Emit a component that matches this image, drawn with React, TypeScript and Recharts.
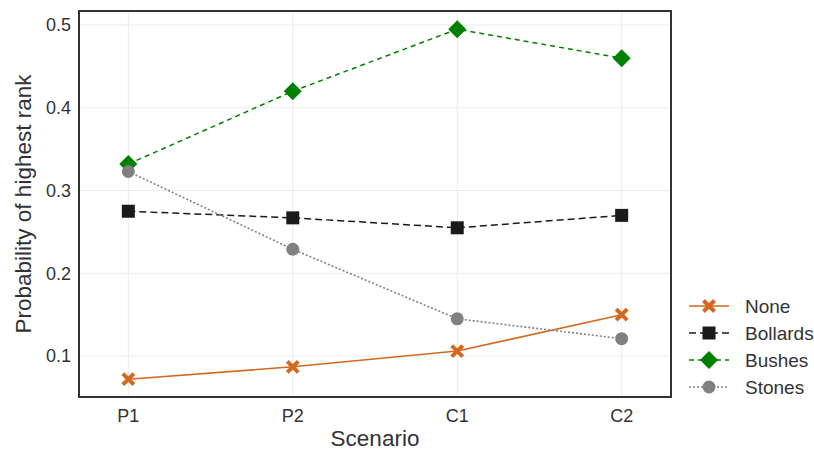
import React from 'react';
import {
  LineChart,
  Line,
  XAxis,
  YAxis,
  CartesianGrid,
  ReferenceArea,
  Label,
} from 'recharts';

const scenarios = ['P1', 'P2', 'C1', 'C2'];
const noneValues = [0.072, 0.087, 0.106, 0.150];
const bollardsValues = [0.275, 0.267, 0.255, 0.270];
const bushesValues = [0.332, 0.420, 0.495, 0.460];
const stonesValues = [0.323, 0.229, 0.145, 0.121];
const yTicks = [0.1, 0.2, 0.3, 0.4, 0.5];

const data = scenarios.map((s, i) => ({
  x: i,
  none: noneValues[i],
  bollards: bollardsValues[i],
  bushes: bushesValues[i],
  stones: stonesValues[i],
}));

const FONT = '"Liberation Sans", Arial, sans-serif';

type Shape = 'cross' | 'square' | 'diamond' | 'circle';

const Marker = ({ cx, cy, shape, color }: { cx: number; cy: number; shape: Shape; color: string }) => {
  if (cx == null || cy == null) return null;
  if (shape === 'cross') {
    const r = 5.5;
    return (
      <g>
        <line x1={cx - r} y1={cy - r} x2={cx + r} y2={cy + r} stroke={color} strokeWidth={4} />
        <line x1={cx - r} y1={cy + r} x2={cx + r} y2={cy - r} stroke={color} strokeWidth={4} />
      </g>
    );
  }
  if (shape === 'square') {
    return <rect x={cx - 6.5} y={cy - 6.5} width={13} height={13} fill={color} />;
  }
  if (shape === 'diamond') {
    const r = 9;
    return <path d={`M${cx},${cy - r}L${cx + r},${cy}L${cx},${cy + r}L${cx - r},${cy}Z`} fill={color} />;
  }
  return <circle cx={cx} cy={cy} r={6.5} fill={color} />;
};

const series = [
  { key: 'none', name: 'None', color: '#D2691E', dash: undefined, width: 1.6, shape: 'cross' as Shape },
  { key: 'bollards', name: 'Bollards', color: '#1a1a1a', dash: '7 4', width: 1.5, shape: 'square' as Shape },
  { key: 'bushes', name: 'Bushes', color: '#008000', dash: '5 4', width: 1.5, shape: 'diamond' as Shape },
  { key: 'stones', name: 'Stones', color: '#808080', dash: '2 2', width: 1.6, shape: 'circle' as Shape },
];

export default function App() {
  return (
    <div style={{ position: 'absolute', left: 0, top: 0, width: 814, height: 450, background: '#fff' }}>
      <LineChart
        width={814}
        height={450}
        data={data}
        margin={{ top: 11, right: 143, bottom: 0, left: 0 }}
      >
        <CartesianGrid stroke="#ebebeb" strokeWidth={1} verticalValues={[0, 1, 2, 3]} horizontalValues={yTicks} />
        <XAxis
          dataKey="x"
          type="number"
          domain={[-0.3, 3.3]}
          ticks={[0, 1, 2, 3]}
          tickFormatter={(v: number) => scenarios[v]}
          axisLine={false}
          tickLine={false}
          tickMargin={6}
          height={53}
          tick={{ fill: '#333', fontSize: 18, fontFamily: FONT }}
        >
          <Label value="Scenario" position="insideBottom" offset={4} fill="#333" fontSize={22.5} fontFamily={FONT} />
        </XAxis>
        <YAxis
          type="number"
          domain={[0.0505, 0.517]}
          ticks={yTicks}
          allowDataOverflow
          tickFormatter={(v: number) => String(v)}
          axisLine={false}
          tickLine={false}
          width={79}
          tick={{ fill: '#333', fontSize: 18, fontFamily: FONT }}
        >
          <Label
            value="Probability of highest rank"
            angle={-90}
            position="center"
            dx={-16.5}
            fill="#333"
            fontSize={22.5}
            fontFamily={FONT}
          />
        </YAxis>
        {series.map((s) => (
          <Line
            key={s.key}
            dataKey={s.key}
            name={s.name}
            stroke={s.color}
            strokeWidth={s.width}
            strokeDasharray={s.dash}
            isAnimationActive={false}
            dot={(p: any) => <Marker key={`${s.key}-${p.index}`} cx={p.cx} cy={p.cy} shape={s.shape} color={s.color} />}
            activeDot={false}
          />
        ))}
        <ReferenceArea
          x1={-0.3}
          x2={3.3}
          y1={0.0505}
          y2={0.517}
          fill="none"
          stroke="#333"
          strokeWidth={2}
          ifOverflow="visible"
        />
      </LineChart>
      <svg style={{ position: 'absolute', left: 0, top: 0 }} width={814} height={450}>
        {series.map((s, i) => {
          const y = 306 + i * 27;
          return (
            <g key={s.key}>
              <line x1={689} x2={729} y1={y} y2={y} stroke={s.color} strokeWidth={s.width} strokeDasharray={s.dash} />
              <Marker cx={709} cy={y} shape={s.shape} color={s.color} />
              <text x={745} y={y} dy="0.35em" fontSize={19} fontFamily={FONT} fill="#333">
                {s.name}
              </text>
            </g>
          );
        })}
      </svg>
    </div>
  );
}
